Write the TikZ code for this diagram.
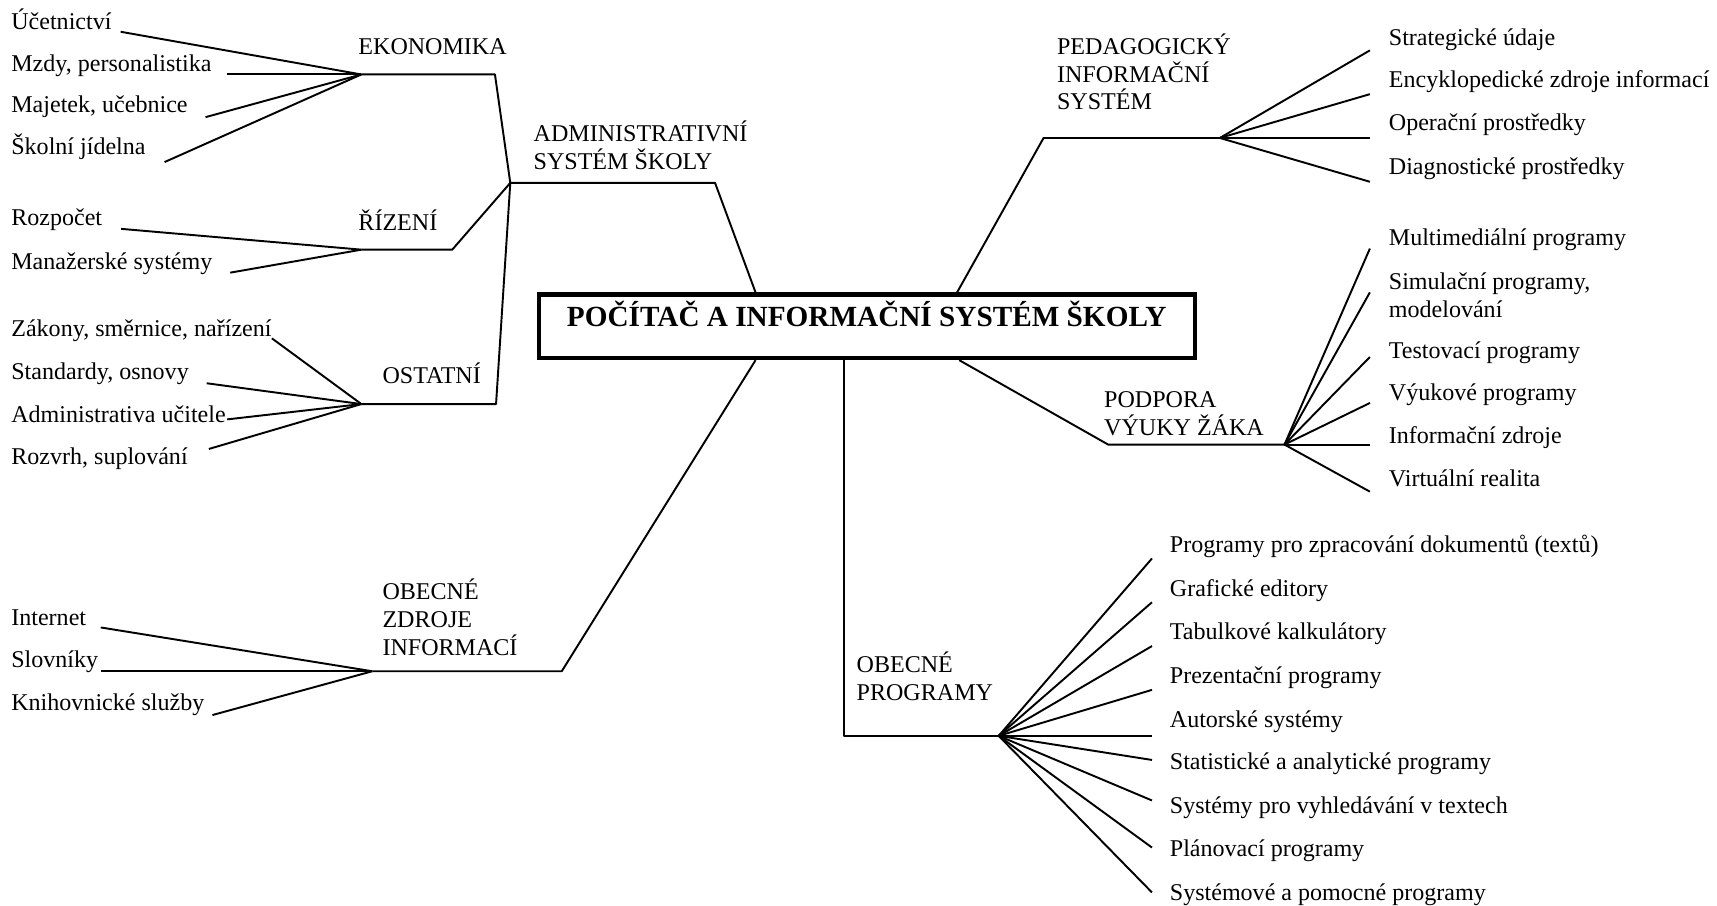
\documentclass[tikz,border=0pt]{standalone}
\usepackage{fontspec}
\setmainfont{Liberation Serif}
\usepackage{tikz}

\begin{document}
\begin{tikzpicture}[x=0.02cm,y=-0.02cm,
  leaf/.style={inner sep=0pt,anchor=base west,font=\fontsize{12.5}{14.5}\selectfont},
  topic/.style={inner sep=0pt,anchor=south west,align=left,font=\fontsize{12.5}{14.5}\selectfont},
  conn/.style={line width=1pt,line join=round},
  mainbox/.style={draw,line width=2.2pt,inner sep=0pt,minimum width=11.98cm,
    text height=0.58cm,text depth=0.58cm,font=\bfseries\fontsize{15.2}{18}\selectfont}]
\useasboundingbox (0,0) rectangle (1568,827);

\node[mainbox] (main) at (791.5,298) {POČÍTAČ A INFORMAČNÍ SYSTÉM ŠKOLY};

\coordinate (eko) at (330,68);   \coordinate (ekob) at (452,68);
\coordinate (adm) at (466,167);  \coordinate (admb) at (653,167);
\coordinate (riz) at (330,228);  \coordinate (rizb) at (413,228);
\coordinate (ost) at (330,369);  \coordinate (ostb) at (453,369);
\coordinate (zdr) at (340,613);  \coordinate (zdrb) at (513,613);
\coordinate (ped) at (1114,126); \coordinate (pedb) at (953,126);
\coordinate (pod) at (1173,406); \coordinate (podb) at (1012,406);
\coordinate (prg) at (912,672);  \coordinate (prgb) at (771,672);

\node[topic] (tEko) at (327,50) {EKONOMIKA};
\node[topic] (tAdm) at (487,155) {ADMINISTRATIVNÍ\\SYSTÉM ŠKOLY};
\node[topic] (tRiz) at (327,211) {ŘÍZENÍ};
\node[topic] (tOst) at (349,351) {OSTATNÍ};
\node[topic] (tZdr) at (349,599) {OBECNÉ\\ZDROJE\\INFORMACÍ};
\node[topic] (tPed) at (965,101) {PEDAGOGICKÝ\\INFORMAČNÍ\\SYSTÉM};
\node[topic] (tPod) at (1008,398) {PODPORA\\VÝUKY ŽÁKA};
\node[topic] (tPrg) at (782,640) {OBECNÉ\\PROGRAMY};

\draw[conn] (eko) -- (ekob) -- (adm);
\draw[conn] (riz) -- (rizb) -- (adm);
\draw[conn] (ost) -- (ostb) -- (adm);
\draw[conn] (adm) -- (admb) -- ([shift={(-101.5,0)}]main.north);
\draw[conn] ([shift={(-101.5,0)}]main.south) -- (zdrb) -- (zdr);
\draw[conn] ([shift={(82.5,0)}]main.north) -- (pedb) -- (ped);
\draw[conn] ([shift={(84.5,0)}]main.south) -- (podb) -- (pod);
\draw[conn] ([shift={(-20.5,0)}]main.south) -- (prgb) -- (prg);

\node[leaf] (ucet) at (10,27) {Účetnictví};
\node[leaf] (mzdy) at (10,65) {Mzdy, personalistika};
\node[leaf] (majetek) at (10,103) {Majetek, učebnice};
\node[leaf] (jidelna) at (10,141) {Školní jídelna};
\draw[conn] ([shift={(8,2)}]ucet.base east) -- (eko);
\draw[conn] ([shift={(14,3)}]mzdy.base east) -- (eko);
\draw[conn] ([shift={(16,4)}]majetek.base east) -- (eko);
\draw[conn] ([shift={(17,7)}]jidelna.base east) -- (eko);

\node[leaf] (rozpocet) at (10,206) {Rozpočet};
\node[leaf] (manazer) at (10,246) {Manažerské systémy};
\draw[conn] ([shift={(17,3)}]rozpocet.base east) -- (riz);
\draw[conn] ([shift={(16,3)}]manazer.base east) -- (riz);

\node[leaf] (zakony) at (10,307) {Zákony, směrnice, nařízení};
\node[leaf] (standard) at (10,347) {Standardy, osnovy};
\node[leaf] (admucit) at (10,386) {Administrativa učitele};
\node[leaf] (rozvrh) at (10,424) {Rozvrh, suplování};
\draw[conn] ([shift={(0,2)}]zakony.base east) -- (ost);
\draw[conn] ([shift={(16,3)}]standard.base east) -- (ost);
\draw[conn] ([shift={(1,-3)}]admucit.base east) -- (ost);
\draw[conn] ([shift={(19,-14)}]rozvrh.base east) -- (ost);

\node[leaf] (internet) at (10,571) {Internet};
\node[leaf] (slovnik) at (10,610) {Slovníky};
\node[leaf] (knihovna) at (10,649) {Knihovnické služby};
\draw[conn] ([shift={(13,2)}]internet.base east) -- (zdr);
\draw[conn] ([shift={(2,3)}]slovnik.base east) -- (zdr);
\draw[conn] ([shift={(7,4)}]knihovna.base east) -- (zdr);

\node[leaf] (strat) at (1268,42) {Strategické údaje};
\node[leaf] (encykl) at (1268,80) {Encyklopedické zdroje informací};
\node[leaf] (operac) at (1268,119) {Operační prostředky};
\node[leaf] (diagn) at (1268,159) {Diagnostické prostředky};
\draw[conn] (ped) -- ([shift={(-17,4)}]strat.base west);
\draw[conn] (ped) -- ([shift={(-17,6)}]encykl.base west);
\draw[conn] (ped) -- ([shift={(-17,7)}]operac.base west);
\draw[conn] (ped) -- ([shift={(-17,7)}]diagn.base west);

\node[leaf] (multim) at (1268,224) {Multimediální programy};
\node[leaf,anchor=north west,align=left] (simul) at (1268,249) {Simulační programy,\\modelování};
\node[leaf] (testov) at (1268,327) {Testovací programy};
\node[leaf] (vyuk) at (1268,366) {Výukové programy};
\node[leaf] (infzdr) at (1268,405) {Informační zdroje};
\node[leaf] (virt) at (1268,444) {Virtuální realita};
\draw[conn] (pod) -- ([shift={(-17,3)}]multim.base west);
\draw[conn] (pod) -- ([shift={(-17,18)}]simul.north west);
\draw[conn] (pod) -- ([shift={(-17,-1)}]testov.base west);
\draw[conn] (pod) -- ([shift={(-17,2)}]vyuk.base west);
\draw[conn] (pod) -- ([shift={(-17,1)}]infzdr.base west);
\draw[conn] (pod) -- ([shift={(-17,5)}]virt.base west);

\node[leaf] (dokum) at (1068,505) {Programy pro zpracování dokumentů (textů)};
\node[leaf] (grafed) at (1068,545) {Grafické editory};
\node[leaf] (tabulk) at (1068,584) {Tabulkové kalkulátory};
\node[leaf] (prezent) at (1068,624) {Prezentační programy};
\node[leaf] (autor) at (1068,664) {Autorské systémy};
\node[leaf] (statist) at (1068,703) {Statistické a analytické programy};
\node[leaf] (vyhled) at (1068,743) {Systémy pro vyhledávání v textech};
\node[leaf] (planov) at (1068,782) {Plánovací programy};
\node[leaf] (systpom) at (1068,822) {Systémové a pomocné programy};
\draw[conn] (prg) -- ([shift={(-16,5)}]dokum.base west);
\draw[conn] (prg) -- ([shift={(-16,5)}]grafed.base west);
\draw[conn] (prg) -- ([shift={(-16,6)}]tabulk.base west);
\draw[conn] (prg) -- ([shift={(-16,6)}]prezent.base west);
\draw[conn] (prg) -- ([shift={(-16,8)}]autor.base west);
\draw[conn] (prg) -- ([shift={(-16,-9)}]statist.base west);
\draw[conn] (prg) -- ([shift={(-16,-12)}]vyhled.base west);
\draw[conn] (prg) -- ([shift={(-16,-8)}]planov.base west);
\draw[conn] (prg) -- ([shift={(-16,-7)}]systpom.base west);
\end{tikzpicture}
\end{document}
